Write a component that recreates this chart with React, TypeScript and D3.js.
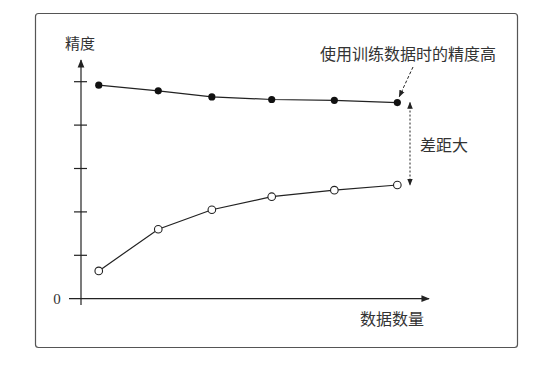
import { useEffect, useRef } from "react";
import * as d3 from "d3";

const width = 543, height = 366;

// data amount (arbitrary units) and accuracy (arbitrary units)
const dataAmount = [5.1, 22.2, 37.6, 54.8, 72.8, 90.9];
const trainAccuracy = [4.92, 4.79, 4.65, 4.59, 4.57, 4.52];
const testAccuracy = [0.64, 1.6, 2.05, 2.35, 2.5, 2.62];
const yTicks = [1, 2, 3, 4, 5];

const yLabel = "精度";
const xLabel = "数据数量";
const trainNote = "使用训练数据时的精度高";
const gapNote = "差距大";

const cjk = "'Noto Sans CJK SC', 'Noto Sans', sans-serif";

const App = () => {
  const ref = useRef(null);

  useEffect(() => {
    const svg = d3
      .select(ref.current)
      .append("svg")
      .attr("width", width)
      .attr("height", height)
      .attr("viewBox", [0, 0, width, height])
      .style("display", "block")
      .style("background", "#fff");

    const x = d3.scaleLinear().domain([0, 100]).range([81, 429]);
    const y = d3.scaleLinear().domain([0, 1]).range([298.7, 255.3]);

    const defs = svg.append("defs");
    defs.append("marker")
      .attr("id", "arr")
      .attr("viewBox", "0 0 10 10")
      .attr("refX", 9).attr("refY", 5)
      .attr("markerWidth", 7).attr("markerHeight", 7)
      .attr("orient", "auto-start-reverse")
      .append("path")
      .attr("d", "M0,1L10,5L0,9z")
      .attr("fill", "#222");

    // frame
    svg.append("rect")
      .attr("x", 35.5).attr("y", 13.5)
      .attr("width", 482).attr("height", 334)
      .attr("rx", 3)
      .attr("fill", "none")
      .attr("stroke", "#555")
      .attr("stroke-width", 1.2);

    const g = svg.append("g").attr("stroke", "#222");

    // axes
    g.append("line")
      .attr("x1", x(0)).attr("x2", x(0))
      .attr("y1", 305).attr("y2", y(5.5))
      .attr("stroke-width", 1.2)
      .attr("marker-end", "url(#arr)");
    g.append("line")
      .attr("x1", 69).attr("x2", x(100))
      .attr("y1", y(0)).attr("y2", y(0))
      .attr("stroke-width", 1.2)
      .attr("marker-end", "url(#arr)");

    g.selectAll(".tick")
      .data(yTicks)
      .join("line")
      .attr("x1", x(0) - 7).attr("x2", x(0) + 6)
      .attr("y1", d => y(d)).attr("y2", d => y(d))
      .attr("stroke-width", 1.2);

    svg.append("text")
      .attr("x", 57).attr("y", y(0) + 5)
      .attr("text-anchor", "middle")
      .attr("font-family", "'Liberation Serif', serif")
      .attr("font-size", 15)
      .attr("fill", "#333")
      .text("0");

    const line = d3.line<number>()
      .x((_, i) => x(dataAmount[i]))
      .y(d => y(d));

    g.append("path").datum(trainAccuracy)
      .attr("d", line).attr("fill", "none").attr("stroke-width", 1.2);
    g.append("path").datum(testAccuracy)
      .attr("d", line).attr("fill", "none").attr("stroke-width", 1.2);

    svg.append("g").selectAll("circle")
      .data(trainAccuracy)
      .join("circle")
      .attr("cx", (_, i) => x(dataAmount[i]))
      .attr("cy", d => y(d))
      .attr("r", 3.6)
      .attr("fill", "#111");

    svg.append("g").selectAll("circle")
      .data(testAccuracy)
      .join("circle")
      .attr("cx", (_, i) => x(dataAmount[i]))
      .attr("cy", d => y(d))
      .attr("r", 3.8)
      .attr("fill", "#fff")
      .attr("stroke", "#222")
      .attr("stroke-width", 1.1);

    // annotations
    const last = dataAmount.length - 1;
    g.append("line")
      .attr("x1", 413).attr("y1", 67)
      .attr("x2", x(dataAmount[last]) + 2).attr("y2", y(trainAccuracy[last]) - 6)
      .attr("stroke-width", 1)
      .attr("stroke-dasharray", "3,2")
      .attr("marker-end", "url(#arr)");

    g.append("line")
      .attr("x1", 410).attr("x2", 410)
      .attr("y1", y(trainAccuracy[last])).attr("y2", y(testAccuracy[last]))
      .attr("stroke-width", 1)
      .attr("stroke-dasharray", "2,2")
      .attr("marker-start", "url(#arr)")
      .attr("marker-end", "url(#arr)");

    const label = (tx: number, ty: number, t: string, size = 16) =>
      svg.append("text")
        .attr("x", tx).attr("y", ty)
        .attr("font-family", cjk)
        .attr("font-size", size)
        .attr("fill", "#333")
        .attr("dominant-baseline", "central")
        .text(t);

    label(65, 42, yLabel, 15);
    label(320, 53, trainNote);
    label(420, 144, gapNote);
    label(360, 318, xLabel);

    return () => {
      d3.select(ref.current).select("svg").remove();
    };
  }, []);

  return <div ref={ref} style={{ position: "absolute", left: 0, top: 0 }}></div>;
};

export default App;
